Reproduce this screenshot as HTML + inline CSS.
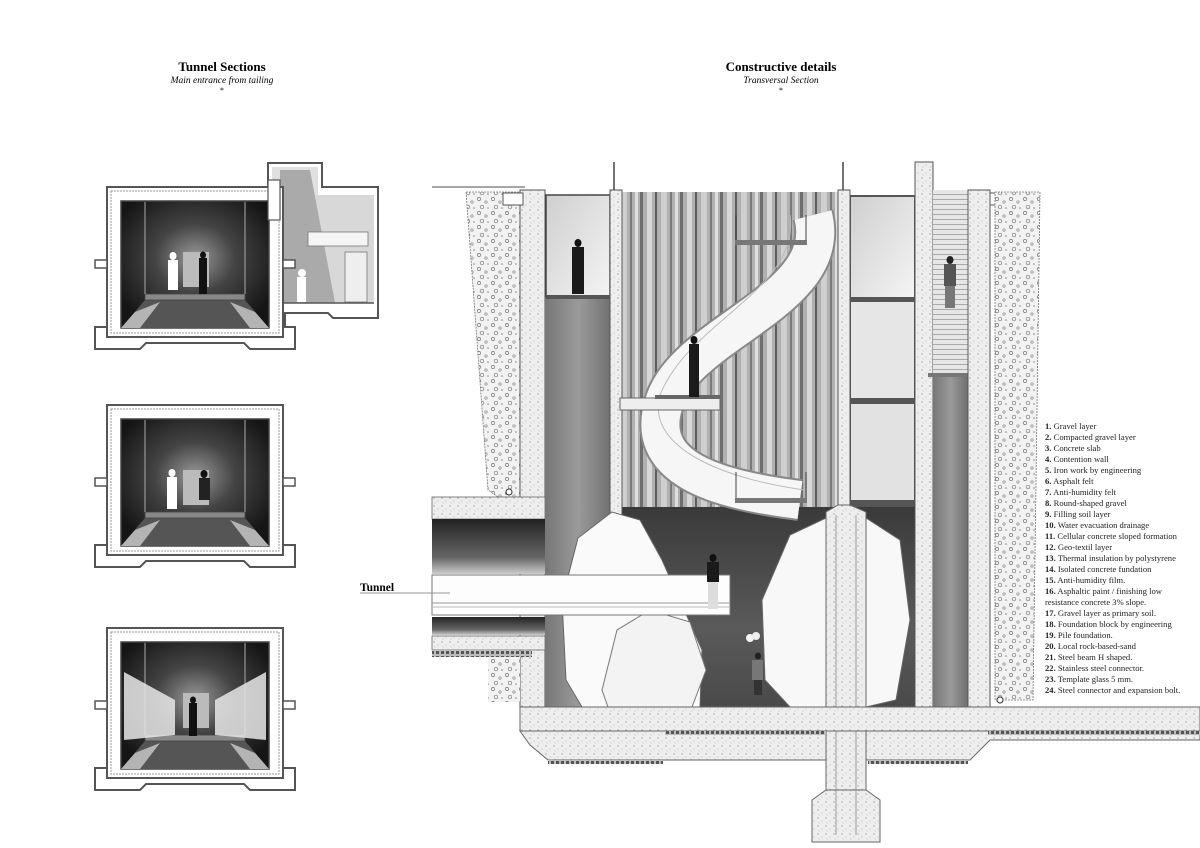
<!DOCTYPE html>
<html><head><meta charset="utf-8"><style>
html,body{margin:0;padding:0;background:#fff;}
svg{display:block;}
.t{font-family:"Liberation Serif",serif;}
</style></head><body>
<svg width="1200" height="848" viewBox="0 0 1200 848" xmlns="http://www.w3.org/2000/svg">
<defs>
<pattern id="grav" width="14" height="14" patternUnits="userSpaceOnUse">
<rect width="14" height="14" fill="#f2f2f2"/>
<circle cx="3" cy="3" r="1.6" fill="none" stroke="#777" stroke-width="0.7"/>
<circle cx="10" cy="6" r="1.2" fill="none" stroke="#888" stroke-width="0.7"/>
<circle cx="6" cy="11" r="1.8" fill="none" stroke="#777" stroke-width="0.7"/>
<circle cx="12" cy="12" r="0.8" fill="#888"/>
</pattern>
<pattern id="conc" width="8" height="8" patternUnits="userSpaceOnUse">
<rect width="8" height="8" fill="#eeeeee"/>
<circle cx="2" cy="2" r="0.6" fill="#888"/>
<circle cx="6" cy="5" r="0.5" fill="#999"/>
<circle cx="3" cy="7" r="0.4" fill="#777"/>
</pattern>
<pattern id="wood" width="40" height="10" patternUnits="userSpaceOnUse">
<rect width="40" height="10" fill="#b0b0b0"/>
<rect x="0" width="3" height="10" fill="#6e6e6e"/>
<rect x="7" width="5" height="10" fill="#d8d8d8"/>
<rect x="15" width="2" height="10" fill="#5e5e5e"/>
<rect x="21" width="6" height="10" fill="#cfcfcf"/>
<rect x="30" width="2" height="10" fill="#7a7a7a"/>
<rect x="35" width="3" height="10" fill="#e0e0e0"/>
</pattern>
<pattern id="stair" width="6" height="5" patternUnits="userSpaceOnUse">
<rect width="6" height="5" fill="#e6e6e6"/><rect y="4" width="6" height="1" fill="#aaa"/>
</pattern>
<pattern id="hatch" width="5" height="5" patternUnits="userSpaceOnUse">
<rect width="5" height="5" fill="#bbb"/><rect x="1" y="1" width="3" height="3" fill="#555"/>
</pattern>
<linearGradient id="dark" x1="0" y1="0" x2="0" y2="1">
<stop offset="0" stop-color="#3a3a3a"/><stop offset="0.6" stop-color="#5a5a5a"/><stop offset="1" stop-color="#4a4a4a"/>
</linearGradient>
<linearGradient id="grayv" x1="0" y1="0" x2="1" y2="0">
<stop offset="0" stop-color="#777"/><stop offset="0.5" stop-color="#9a9a9a"/><stop offset="1" stop-color="#6f6f6f"/>
</linearGradient>
<linearGradient id="tun" x1="0" y1="0" x2="0" y2="1">
<stop offset="0" stop-color="#222"/><stop offset="0.7" stop-color="#666"/><stop offset="1" stop-color="#ccc"/>
</linearGradient>
<radialGradient id="sec" cx="0.5" cy="0.45" r="0.6">
<stop offset="0" stop-color="#999"/><stop offset="0.45" stop-color="#444"/><stop offset="1" stop-color="#151515"/>
</radialGradient>
<linearGradient id="glass" x1="0" y1="0" x2="1" y2="1">
<stop offset="0" stop-color="#cfcfcf"/><stop offset="1" stop-color="#f4f4f4"/>
</linearGradient>

<g id="frame">
<polygon points="95,545 95,567 140,567 146,561 244,561 250,567 295,567 295,545" fill="#fff" stroke="#555" stroke-width="2"/>
<rect x="107" y="405" width="176" height="150" fill="#fff" stroke="#555" stroke-width="2"/>
<rect x="111" y="409" width="168" height="142" fill="none" stroke="#999" stroke-width="1" stroke-dasharray="2,1"/>
<rect x="95" y="478" width="12" height="8" fill="#fff" stroke="#555" stroke-width="1.5"/>
<rect x="283" y="478" width="12" height="8" fill="#fff" stroke="#555" stroke-width="1.5"/>
<rect x="121" y="419" width="148" height="127" fill="url(#sec)" stroke="#444" stroke-width="1.5"/>
<polygon points="121,546 145,518 245,518 269,546" fill="#555"/>
<polygon points="121,546 135,530 160,520 140,546" fill="#ddd" opacity="0.7"/>
<polygon points="269,546 255,530 230,520 250,546" fill="#ddd" opacity="0.7"/>
<rect x="145" y="512" width="100" height="6" fill="#888" stroke="#444" stroke-width="0.8"/>
<line x1="145" y1="420" x2="145" y2="512" stroke="#aaa" stroke-width="1"/>
<line x1="245" y1="420" x2="245" y2="512" stroke="#aaa" stroke-width="1"/>
<rect x="183" y="470" width="26" height="35" fill="#bbb"/>
</g>
</defs>

<!-- Titles -->
<text class="t" x="222" y="71" text-anchor="middle" font-size="13" font-weight="bold">Tunnel Sections</text>
<text class="t" x="222" y="83" text-anchor="middle" font-size="9.5" font-style="italic">Main entrance from tailing</text>
<text class="t" x="222" y="93" text-anchor="middle" font-size="8">*</text>
<text class="t" x="781" y="71" text-anchor="middle" font-size="13" font-weight="bold">Constructive details</text>
<text class="t" x="781" y="83" text-anchor="middle" font-size="9.5" font-style="italic">Transversal Section</text>
<text class="t" x="781" y="93" text-anchor="middle" font-size="8">*</text>

<!-- Section 1 with annex -->
<polygon points="268,163 322,163 322,187 378,187 378,318 333,318 328,313 285,313 285,330 268,330" fill="#fff" stroke="#555" stroke-width="2"/>
<rect x="272" y="167" width="46" height="136" fill="#e0e0e0"/>
<rect x="280" y="195" width="94" height="108" fill="#d8d8d8"/>
<polygon points="280,170 310,170 335,303 280,303" fill="#aaa"/>
<rect x="308" y="232" width="60" height="14" fill="#f5f5f5" stroke="#777" stroke-width="0.8"/>
<rect x="345" y="252" width="22" height="50" fill="#eee" stroke="#777" stroke-width="0.8"/>
<line x1="272" y1="303" x2="374" y2="303" stroke="#555" stroke-width="1.5"/>
<ellipse cx="302" cy="273" rx="4" ry="4" fill="#fff"/><rect x="297" y="277" width="9" height="25" fill="#fff"/>
<use href="#frame" transform="translate(0,-218)"/>
<rect x="268" y="180" width="12" height="40" fill="#fff" stroke="#555" stroke-width="1.2"/>
<!-- people sec1 -->
<ellipse cx="173" cy="256" rx="3.5" ry="4" fill="#fff"/><rect x="168" y="260" width="10" height="30" fill="#fff"/>
<ellipse cx="203" cy="255" rx="3" ry="3.5" fill="#111"/><rect x="199" y="258" width="8" height="36" fill="#111"/>

<!-- Section 2 -->
<use href="#frame"/>
<ellipse cx="172" cy="473" rx="3.5" ry="4" fill="#fff"/><rect x="167" y="477" width="10" height="32" fill="#fff"/>
<ellipse cx="204" cy="474" rx="3.5" ry="4" fill="#111"/><rect x="199" y="478" width="11" height="22" fill="#222"/>

<!-- Section 3 -->
<use href="#frame" transform="translate(0,223)"/>
<polygon points="124,672 175,700 175,735 124,740" fill="#e8e8e8" opacity="0.85"/>
<polygon points="266,672 215,700 215,735 266,740" fill="#e8e8e8" opacity="0.85"/>
<ellipse cx="193" cy="700" rx="3" ry="3.5" fill="#111"/><rect x="189" y="703" width="8" height="33" fill="#111"/>

<!-- ===== Main section ===== -->
<line x1="432" y1="187" x2="525" y2="187" stroke="#888" stroke-width="1.5"/>
<polygon points="466,192 520,192 520,497 498,497 488,490" fill="url(#grav)" stroke="#777" stroke-width="0.8" stroke-dasharray="2,1"/>
<circle cx="509" cy="492" r="3" fill="#fff" stroke="#333"/>
<rect x="520" y="190" width="25" height="520" fill="url(#conc)" stroke="#555" stroke-width="1"/>
<rect x="503" y="193" width="20" height="12" fill="#fff" stroke="#555" stroke-width="1"/>
<rect x="432" y="497" width="113" height="22" fill="url(#conc)" stroke="#666" stroke-width="0.8"/>
<rect x="432" y="519" width="113" height="55" fill="url(#tun)"/>
<rect x="432" y="617" width="113" height="18" fill="url(#tun)"/>
<rect x="432" y="636" width="113" height="14" fill="url(#conc)" stroke="#666" stroke-width="0.8"/>
<rect x="432" y="651" width="100" height="6" fill="url(#hatch)"/>
<rect x="488" y="657" width="32" height="45" fill="url(#grav)"/>
<rect x="545" y="297" width="67" height="410" fill="url(#grayv)"/>
<rect x="546" y="195" width="64" height="102" fill="url(#glass)" stroke="#444" stroke-width="1.5"/>
<rect x="546" y="295" width="64" height="4" fill="#555"/>
<rect x="622" y="192" width="216" height="315" fill="url(#wood)"/>
<rect x="612" y="507" width="303" height="200" fill="url(#dark)"/>
<rect x="610" y="190" width="12" height="330" fill="url(#conc)" stroke="#555" stroke-width="1"/>
<line x1="614" y1="162" x2="614" y2="190" stroke="#444" stroke-width="1.5"/>
<line x1="843" y1="162" x2="843" y2="190" stroke="#444" stroke-width="1.5"/>
<rect x="838" y="190" width="12" height="320" fill="url(#conc)" stroke="#555" stroke-width="1"/>
<path d="M 813 215 C 835 300, 690 330, 665 400 C 640 470, 720 490, 800 500" fill="none" stroke="#888" stroke-width="42"/>
<path d="M 813 215 C 835 300, 690 330, 665 400 C 640 470, 720 490, 800 500" fill="none" stroke="#f6f6f6" stroke-width="38"/>
<path d="M 790 215 C 800 290, 690 320, 660 395 C 645 450, 730 480, 805 490" fill="none" stroke="#bbb" stroke-width="1"/>
<rect x="735" y="240" width="72" height="5" fill="#777"/>
<line x1="736" y1="215" x2="736" y2="240" stroke="#444"/><line x1="806" y1="215" x2="806" y2="240" stroke="#444"/>
<rect x="620" y="398" width="100" height="12" fill="#eee" stroke="#666" stroke-width="1"/>
<rect x="655" y="395" width="65" height="4" fill="#666"/>
<rect x="735" y="498" width="72" height="5" fill="#777"/>
<line x1="736" y1="472" x2="736" y2="498" stroke="#444"/><line x1="806" y1="472" x2="806" y2="498" stroke="#444"/>
<rect x="850" y="195" width="65" height="312" fill="#555"/>
<rect x="851" y="197" width="63" height="100" fill="url(#glass)"/>
<rect x="851" y="302" width="63" height="96" fill="#e6e6e6"/>
<rect x="851" y="404" width="63" height="96" fill="#e2e2e2"/>
<polygon points="612,512 578,538 562,600 566,680 582,707 700,707 702,650 662,560 640,520" fill="#fafafa" stroke="#666" stroke-width="1"/>
<polygon points="602,690 617,630 650,610 690,622 706,670 692,707 608,707" fill="#f3f3f3" stroke="#777" stroke-width="1"/>
<polygon points="826,518 790,535 762,600 765,680 790,707 826,707" fill="#f8f8f8" stroke="#666" stroke-width="1"/>
<polygon points="866,518 900,540 910,620 896,700 866,707" fill="#f8f8f8" stroke="#666" stroke-width="1"/>
<rect x="432" y="575" width="298" height="40" fill="#fdfdfd" stroke="#777" stroke-width="1"/>
<line x1="432" y1="603" x2="730" y2="603" stroke="#999"/>
<line x1="432" y1="607" x2="730" y2="607" stroke="#bbb"/>
<line x1="360" y1="593" x2="450" y2="593" stroke="#999"/>
<text class="t" x="360" y="591" font-size="11.5" font-weight="bold">Tunnel</text>
<polygon points="826,512 838,505 850,505 866,512 866,825 860,835 832,835 826,825" fill="url(#conc)" stroke="#666" stroke-width="1"/>
<polygon points="812,800 826,790 866,790 880,800 880,842 812,842" fill="url(#conc)" stroke="#666" stroke-width="1"/>
<line x1="836" y1="515" x2="836" y2="835" stroke="#888" stroke-width="0.8"/>
<line x1="856" y1="515" x2="856" y2="835" stroke="#888" stroke-width="0.8"/>
<rect x="915" y="162" width="18" height="545" fill="url(#conc)" stroke="#555" stroke-width="1"/>
<rect x="933" y="190" width="35" height="185" fill="url(#stair)"/>
<rect x="933" y="375" width="35" height="332" fill="url(#grayv)"/>
<rect x="928" y="373" width="45" height="4" fill="#777"/>
<rect x="968" y="190" width="22" height="517" fill="url(#conc)" stroke="#555" stroke-width="1"/>
<rect x="990" y="193" width="10" height="12" fill="#fff" stroke="#555" stroke-width="1"/>
<polygon points="995,192 1040,192 1033,700 995,700" fill="url(#grav)" stroke="#777" stroke-width="0.8" stroke-dasharray="2,1"/>
<circle cx="1000" cy="700" r="3" fill="#fff" stroke="#333"/>
<rect x="520" y="707" width="680" height="24" fill="url(#conc)" stroke="#666" stroke-width="1"/>
<polygon points="520,731 826,731 826,760 548,760 530,745" fill="url(#conc)" stroke="#666" stroke-width="1"/>
<polygon points="866,731 1200,731 1200,740 990,740 970,760 866,760" fill="url(#conc)" stroke="#666" stroke-width="1"/>
<rect x="665" y="731" width="161" height="4" fill="url(#hatch)"/>
<rect x="988" y="731" width="212" height="4" fill="url(#hatch)"/>
<rect x="548" y="760" width="115" height="4" fill="url(#hatch)"/>
<rect x="868" y="760" width="100" height="4" fill="url(#hatch)"/>
<ellipse cx="578" cy="243" rx="3.5" ry="4" fill="#111"/><rect x="572" y="247" width="12" height="47" fill="#1a1a1a"/>
<ellipse cx="694" cy="340" rx="3.5" ry="4" fill="#111"/><rect x="689" y="344" width="10" height="53" fill="#1a1a1a"/>
<ellipse cx="713" cy="558" rx="3.5" ry="4" fill="#111"/><rect x="707" y="562" width="12" height="20" fill="#1a1a1a"/><rect x="708" y="582" width="10" height="27" fill="#ddd"/>
<circle cx="750" cy="638" r="4" fill="#f5f5f5"/><circle cx="756" cy="636" r="4" fill="#eee"/>
<ellipse cx="758" cy="656" rx="3" ry="3.5" fill="#222"/><rect x="752" y="660" width="11" height="20" fill="#777"/><rect x="754" y="680" width="8" height="15" fill="#333"/>
<ellipse cx="950" cy="260" rx="3.5" ry="4" fill="#222"/><rect x="944" y="264" width="12" height="22" fill="#555"/><rect x="945" y="286" width="10" height="22" fill="#777"/>

<g class="t" font-size="8.6" fill="#222">
<text x="1045" y="429"><tspan font-weight="bold">1.</tspan> Gravel layer</text>
<text x="1045" y="440"><tspan font-weight="bold">2.</tspan> Compacted gravel layer</text>
<text x="1045" y="451"><tspan font-weight="bold">3.</tspan> Concrete slab</text>
<text x="1045" y="462"><tspan font-weight="bold">4.</tspan> Contention wall</text>
<text x="1045" y="473"><tspan font-weight="bold">5.</tspan> Iron work by engineering</text>
<text x="1045" y="484"><tspan font-weight="bold">6.</tspan> Asphalt felt</text>
<text x="1045" y="495"><tspan font-weight="bold">7.</tspan> Anti-humidity felt</text>
<text x="1045" y="506"><tspan font-weight="bold">8.</tspan> Round-shaped gravel</text>
<text x="1045" y="517"><tspan font-weight="bold">9.</tspan> Filling soil layer</text>
<text x="1045" y="528"><tspan font-weight="bold">10.</tspan> Water evacuation drainage</text>
<text x="1045" y="539"><tspan font-weight="bold">11.</tspan> Cellular concrete sloped formation</text>
<text x="1045" y="550"><tspan font-weight="bold">12.</tspan> Geo-textil layer</text>
<text x="1045" y="561"><tspan font-weight="bold">13.</tspan> Thermal insulation by polystyrene</text>
<text x="1045" y="572"><tspan font-weight="bold">14.</tspan> Isolated concrete fundation</text>
<text x="1045" y="583"><tspan font-weight="bold">15.</tspan> Anti-humidity film.</text>
<text x="1045" y="594"><tspan font-weight="bold">16.</tspan> Asphaltic paint / finishing low</text>
<text x="1045" y="605">resistance concrete 3% slope.</text>
<text x="1045" y="616"><tspan font-weight="bold">17.</tspan> Gravel layer as primary soil.</text>
<text x="1045" y="627"><tspan font-weight="bold">18.</tspan> Foundation block by engineering</text>
<text x="1045" y="638"><tspan font-weight="bold">19.</tspan> Pile foundation.</text>
<text x="1045" y="649"><tspan font-weight="bold">20.</tspan> Local rock-based-sand</text>
<text x="1045" y="660"><tspan font-weight="bold">21.</tspan> Steel beam H shaped.</text>
<text x="1045" y="671"><tspan font-weight="bold">22.</tspan> Stainless steel connector.</text>
<text x="1045" y="682"><tspan font-weight="bold">23.</tspan>  Template glass 5 mm.</text>
<text x="1045" y="693"><tspan font-weight="bold">24.</tspan>  Steel connector and expansion bolt.</text>
</g>
</svg>
</body></html>
